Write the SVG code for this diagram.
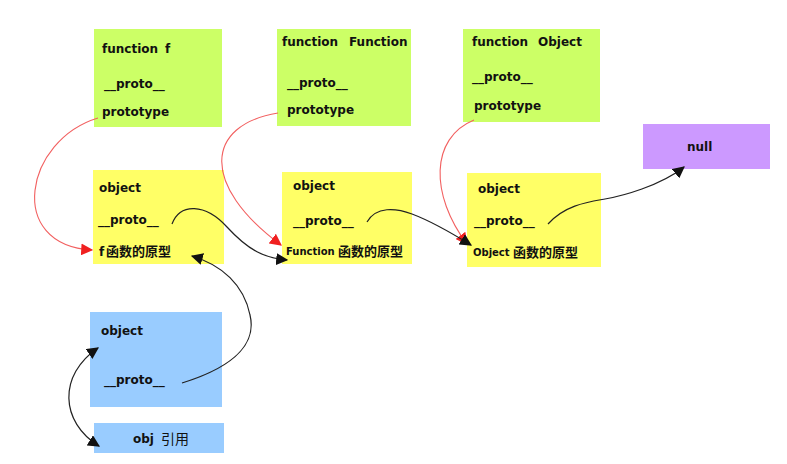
<svg xmlns="http://www.w3.org/2000/svg" width="787" height="464" viewBox="0 0 787 464">
<style>
.g{fill:#ccff66}.y{fill:#ffff66}.b{fill:#99ccff}.p{fill:#cc99ff}
text{font-family:"DejaVu Sans","Noto Sans CJK SC",sans-serif;font-weight:bold;font-size:12px;fill:#111}
.s{font-size:10px}.cn{font-family:"Noto Sans CJK SC",sans-serif;font-size:13px;font-weight:bold}
.r{fill:none;stroke:#f26060;stroke-width:1.1}
.k{fill:none;stroke:#222;stroke-width:1.2}
</style>
<defs>
<marker id="ar" viewBox="0 0 10 10" refX="9" refY="5" markerWidth="12" markerHeight="12" markerUnits="userSpaceOnUse" orient="auto"><path d="M0,0L10,5L0,10z" fill="#f02020"/></marker>
<marker id="ak" viewBox="0 0 10 10" refX="9" refY="5" markerWidth="12" markerHeight="12" markerUnits="userSpaceOnUse" orient="auto"><path d="M0,0L10,5L0,10z" fill="#111"/></marker>
<marker id="aks" viewBox="0 0 10 10" refX="1" refY="5" markerWidth="12" markerHeight="12" markerUnits="userSpaceOnUse" orient="auto"><path d="M10,0L0,5L10,10z" fill="#111"/></marker>
</defs>
<g id="fnF"><rect class="g" x="94" y="29" width="128" height="98"/><text x="102" y="53">function</text><text x="165" y="53">f</text><text x="104" y="88">__proto__</text><text x="102" y="116">prototype</text></g>
<g id="fnFunction"><rect class="g" x="277" y="29" width="134" height="97"/><text x="282" y="46">function</text><text x="349" y="46">Function</text><text x="287" y="87">__proto__</text><text x="287" y="114">prototype</text></g>
<g id="fnObject"><rect class="g" x="463" y="29" width="137" height="93"/><text x="472" y="46">function</text><text x="538" y="46">Object</text><text x="472" y="81">__proto__</text><text x="474" y="110">prototype</text></g>
<g id="null"><rect class="p" x="643" y="124" width="127" height="45"/><text x="687" y="151">null</text></g>
<g id="protoF"><rect class="y" x="93" y="170" width="131" height="94"/><text x="99" y="192">object</text><text x="98" y="224">__proto__</text><text x="99" y="256">f</text><text class="cn" x="106" y="256">函数的原型</text></g>
<g id="protoFunction"><rect class="y" x="282" y="172" width="130" height="92"/><text x="293" y="190">object</text><text x="293" y="225">__proto__</text><text class="s" x="286" y="255">Function</text><text class="cn" x="338" y="256">函数的原型</text></g>
<g id="protoObject"><rect class="y" x="467" y="173" width="134" height="94"/><text x="478" y="193">object</text><text x="474" y="225">__proto__</text><text class="s" x="473" y="256">Object</text><text class="cn" x="513" y="257">函数的原型</text></g>
<g id="obj"><rect class="b" x="90" y="312" width="132" height="95"/><text x="101" y="335">object</text><text x="104" y="384">__proto__</text></g>
<g id="objRef"><rect class="b" x="94" y="423" width="130" height="30"/><text x="133" y="443">obj</text><text class="cn" x="161" y="444" style="font-size:14px;font-weight:normal">引用</text></g>
<g id="connectors">
<path class="r" d="M98,118 C25,140 5,245 92,250" marker-end="url(#ar)"/>
<path class="r" d="M278,113 C205,125 200,185 281,245" marker-end="url(#ar)"/>
<path class="r" d="M474,120 C430,138 430,195 467,244" marker-end="url(#ar)"/>
<path class="k" d="M172,224 C180,203 205,203 227,227 S265,258 287,260" marker-end="url(#ak)"/>
<path class="k" d="M367,222 C376,206 396,208 412,214 S450,232 471,245" marker-end="url(#ak)"/>
<path class="k" d="M548,224 C565,205 588,202 605,199 S660,186 684,167" marker-end="url(#ak)"/>
<path class="k" d="M182,383 C240,365 256,340 250,315 C244,285 222,265 192,256" marker-end="url(#ak)"/>
<path class="k" d="M98,348 C58,375 60,422 99,446" marker-start="url(#aks)" marker-end="url(#ak)"/>
</g>
</svg>
